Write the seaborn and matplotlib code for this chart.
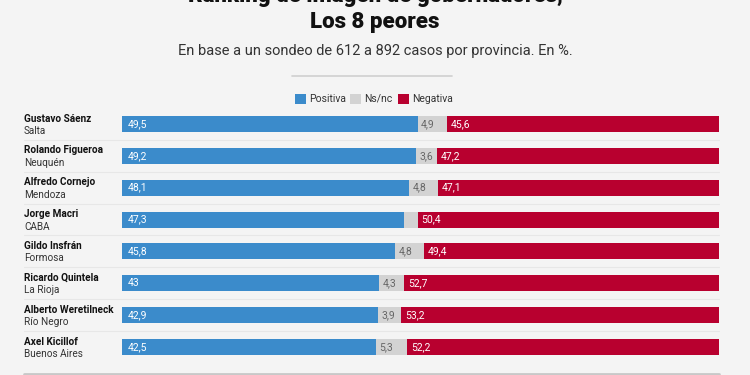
import numpy as np
import pandas as pd
import matplotlib.pyplot as plt
import matplotlib.transforms as mtransforms
from matplotlib.lines import Line2D
from matplotlib.patches import Rectangle
import seaborn as sns

# Data
gobernadores = ['Gustavo Sáenz', 'Rolando Figueroa', 'Alfredo Cornejo', 'Jorge Macri',
                'Gildo Insfrán', 'Ricardo Quintela', 'Alberto Weretilneck', 'Axel Kicillof']
provincias = ['Salta', 'Neuquén', 'Mendoza', 'CABA',
              'Formosa', 'La Rioja', 'Río Negro', 'Buenos Aires']
positiva = [49.5, 49.2, 48.1, 47.3, 45.8, 43.0, 42.9, 42.5]
nsnc = [4.9, 3.6, 4.8, 2.3, 4.8, 4.3, 3.9, 5.3]
negativa = [45.6, 47.2, 47.1, 50.4, 49.4, 52.7, 53.2, 52.2]

pos_lbl = ['49,5', '49,2', '48,1', '47,3', '45,8', '43', '42,9', '42,5']
ns_lbl = ['4,9', '3,6', '4,8', '', '4,8', '4,3', '3,9', '5,3']
neg_lbl = ['45,6', '47,2', '47,1', '50,4', '49,4', '52,7', '53,2', '52,2']

BLUE = '#3b8bcb'
GRAY = '#d3d3d3'
RED = '#b8002f'
BG = '#f4f4f4'

df = pd.DataFrame({'gob': gobernadores, 'pos': positiva, 'ns': nsnc, 'neg': negativa})
df['pos_ns'] = df['pos'] + df['ns']
df['total'] = df['pos_ns'] + df['neg']

sns.set_style('white')
plt.rcParams['font.family'] = ['Roboto', 'DejaVu Sans']

fig = plt.figure(figsize=(7.5, 3.75), dpi=100, facecolor=BG)
ax = fig.add_axes([122 / 750, 1 - 363 / 375, 597 / 750, 255 / 375])
ax.set_facecolor(BG)

# layered stacked bars
sns.barplot(data=df, x='total', y='gob', color=RED, orient='h', width=0.5,
            saturation=1, ax=ax, edgecolor='none')
sns.barplot(data=df, x='pos_ns', y='gob', color=GRAY, orient='h', width=0.5,
            saturation=1, ax=ax, edgecolor='none')
sns.barplot(data=df, x='pos', y='gob', color=BLUE, orient='h', width=0.5,
            saturation=1, ax=ax, edgecolor='none')

ax.set_xlim(0, 100)
ax.set_ylim(7.5, -0.5)
ax.set_xticks([])
ax.set_yticks([])
ax.set_xlabel('')
ax.set_ylabel('')
for s in ax.spines.values():
    s.set_visible(False)

# value labels
for i in range(len(df)):
    ax.text(1.0, i, pos_lbl[i], color='white', fontsize=7.5, va='center', ha='left')
    if ns_lbl[i]:
        ax.text(df['pos'][i] + 0.6, i, ns_lbl[i], color='#666666', fontsize=7.5,
                va='center', ha='left')
    ax.text(df['pos_ns'][i] + 0.6, i, neg_lbl[i], color='white', fontsize=7.5,
            va='center', ha='left')

# names and provinces on the left
trans = mtransforms.blended_transform_factory(ax.transAxes, ax.transData)
x_name = (24 - 122) / 597
for i in range(len(df)):
    ax.text(x_name, i - 0.17, gobernadores[i], transform=trans, fontsize=7.2,
            fontweight='bold', color='#111111', va='center', ha='left')
    ax.text(x_name, i + 0.22, provincias[i], transform=trans, fontsize=7.2,
            color='#333333', va='center', ha='left')
    if i < len(df) - 1:
        ax.plot([x_name, 1], [i + 0.5, i + 0.5], transform=trans, color='#e7e7e7',
                lw=0.8, clip_on=False)

# bottom rule
fig.add_artist(Line2D([24 / 750, 719 / 750], [1 - 374 / 375] * 2, color='#c8c8c8', lw=2))

# titles
fig.text(0.5, 1 - (-4) / 375, 'Ranking de imagen de gobernadores,', ha='center', va='center',
         fontsize=16, fontweight='black', color='#111111')
fig.text(0.5, 1 - 22 / 375, 'Los 8 peores', ha='center', va='center',
         fontsize=16, fontweight='black', color='#111111')
fig.text(0.5, 1 - 51 / 375, 'En base a un sondeo de 612 a 892 casos por provincia. En %.',
         ha='center', va='center', fontsize=10.5, color='#333333')
fig.add_artist(Line2D([292 / 750, 452 / 750], [1 - 76 / 375] * 2, color='#cfcfcf', lw=1.2))

# legend
leg_items = [('Positiva', BLUE, 295), ('Ns/nc', GRAY, 350), ('Negativa', RED, 398)]
for lab, col, px in leg_items:
    fig.add_artist(Rectangle((px / 750, 1 - 104 / 375), 11 / 750, 10 / 375,
                             facecolor=col, edgecolor='none', transform=fig.transFigure))
    fig.text((px + 14) / 750, 1 - 99 / 375, lab, ha='left', va='center',
             fontsize=7.5, color='#333333')

fig.savefig('out.png', dpi=100, facecolor=BG)
